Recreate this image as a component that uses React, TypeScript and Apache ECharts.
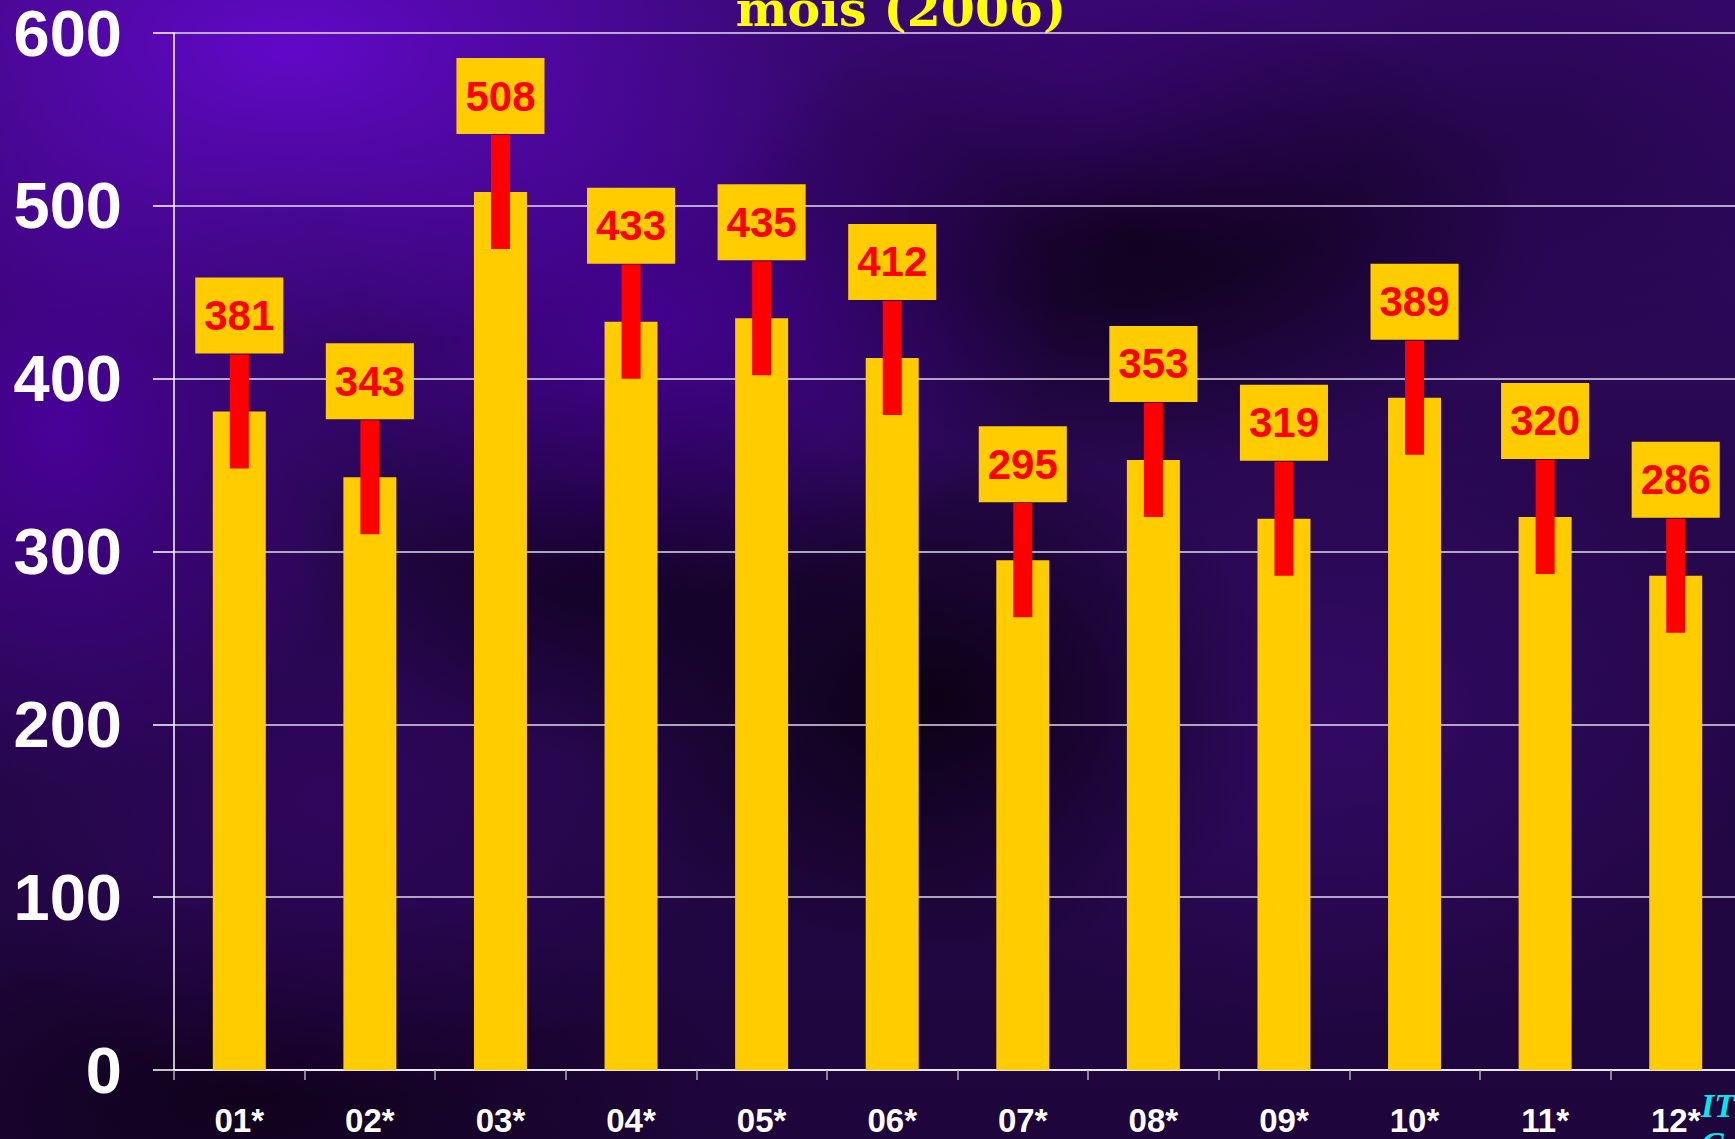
import React, { useEffect, useRef } from "react";
import * as echarts from "echarts";

const categories = ["01*", "02*", "03*", "04*", "05*", "06*", "07*", "08*", "09*", "10*", "11*", "12*"];
const values = [381, 343, 508, 433, 435, 412, 295, 353, 319, 389, 320, 286];
const errors = [33, 33, 33, 33, 33, 33, 33, 33, 33, 33, 33, 33];
const yTicks = [0, 100, 200, 300, 400, 500, 600];
const titleText = "mois (2006)";
const footText = "IT\nC";

const W = 1735;
const H = 1139;
const CW = 1760; // chart canvas slightly wider than the page so the plot can run past the right edge
const SANS = '"Liberation Sans", Arial, sans-serif';

export default function App() {
  const ref = useRef<HTMLDivElement>(null);
  useEffect(() => {
    if (!ref.current) return;
    const chart = echarts.init(ref.current, undefined, { renderer: "svg", width: CW, height: H });
    const option: any = {
      animation: false,
      backgroundColor: "transparent",
      grid: { left: 174, top: 33, width: 1567, height: 1037, containLabel: false },
      xAxis: {
        type: "category",
        data: categories,
        axisLine: { show: true, lineStyle: { color: "#ffffff", width: 1.5 } },
        axisTick: { show: true, length: 10, lineStyle: { color: "#b0b0b0", width: 1.5 } },
        axisLabel: { color: "#ffffff", fontFamily: SANS, fontWeight: "bold", fontSize: 33, margin: 34 },
        splitLine: { show: false },
      },
      yAxis: {
        type: "value",
        min: yTicks[0],
        max: yTicks[yTicks.length - 1],
        interval: 100,
        axisLine: { show: true, lineStyle: { color: "#ffffff", width: 1.5 } },
        axisTick: { show: true, length: 21, lineStyle: { color: "#ffffff", width: 1.5 } },
        axisLabel: { color: "#ffffff", fontFamily: SANS, fontWeight: "bold", fontSize: 65, margin: 52 },
        splitLine: { show: true, lineStyle: { color: "rgba(235,230,245,0.95)", width: 1.5 } },
      },
      series: [
        {
          type: "bar",
          data: values,
          barWidth: 53,
          itemStyle: { color: "#ffcc00" },
          z: 2,
        },
        {
          type: "custom",
          data: values.map((v, i) => [i, v, errors[i]]),
          z: 5,
          renderItem: (params: any, api: any) => {
            const idx = api.value(0);
            const v = api.value(1);
            const e = api.value(2);
            const top = api.coord([idx, v + e]);
            const bot = api.coord([idx, v - e]);
            const mid = api.coord([idx, v]);
            return {
              type: "group",
              children: [
                {
                  type: "rect",
                  shape: { x: top[0] - 9.5, y: top[1], width: 19, height: bot[1] - top[1] },
                  style: { fill: "#ff0000" },
                },
                {
                  type: "text",
                  x: mid[0],
                  y: mid[1] - 58,
                  z2: 10,
                  style: {
                    text: String(v),
                    fill: "#ff0000",
                    font: `bold 42px ${SANS}`,
                    align: "center",
                    verticalAlign: "bottom",
                    backgroundColor: "#ffcc00",
                    padding: [17, 9, 17, 9],
                    lineHeight: 42,
                  },
                },
              ],
            };
          },
        },
      ],
      graphic: [
        {
          type: "text",
          x: 901,
          y: 9,
          style: {
            text: titleText,
            fill: "#ffff00",
            font: 'bold 49px "DejaVu Serif", "Liberation Serif", serif',
            textAlign: "center",
            textVerticalAlign: "middle",
          },
        },
        {
          type: "text",
          x: 1701,
          y: 1086,
          style: {
            text: footText,
            fill: "#00e8ee",
            font: 'italic bold 34px "Liberation Serif", "DejaVu Serif", serif',
            textAlign: "left",
            textVerticalAlign: "top",
            lineHeight: 38,
          },
        },
      ],
    };
    chart.setOption(option);
    return () => chart.dispose();
  }, []);

  const bg = [
    "radial-gradient(ellipse 560px 300px at 290px 50px, rgba(100,8,205,0.95), rgba(100,8,205,0) 100%)",
    "radial-gradient(ellipse 320px 360px at 60px 430px, rgba(78,0,165,0.85), rgba(78,0,165,0) 100%)",
    "radial-gradient(ellipse 420px 280px at 640px 320px, rgba(72,0,155,0.8), rgba(72,0,155,0) 100%)",
    "radial-gradient(ellipse 320px 240px at 1080px 60px, rgba(60,5,120,0.7), rgba(60,5,120,0) 100%)",
    "radial-gradient(ellipse 420px 240px at 1130px 230px, rgba(8,0,12,0.95), rgba(8,0,12,0) 100%)",
    "radial-gradient(ellipse 300px 200px at 600px 560px, rgba(12,0,24,0.8), rgba(12,0,24,0) 100%)",
    "radial-gradient(ellipse 360px 260px at 930px 700px, rgba(10,0,16,0.9), rgba(10,0,16,0) 100%)",
    "radial-gradient(ellipse 440px 320px at 1330px 720px, rgba(55,10,110,0.75), rgba(55,10,110,0) 100%)",
    "radial-gradient(ellipse 380px 300px at 330px 800px, rgba(50,5,100,0.75), rgba(50,5,100,0) 100%)",
    "radial-gradient(ellipse 400px 260px at 1520px 150px, rgba(35,5,70,0.7), rgba(35,5,70,0) 100%)",
    "radial-gradient(ellipse 500px 220px at 250px 1100px, rgba(14,0,22,0.85), rgba(14,0,22,0) 100%)",
    "linear-gradient(180deg, #36086e 0%, #26084c 45%, #1e063c 100%)",
  ].join(", ");

  return (
    <div
      style={{ position: "fixed", left: 0, top: 0, width: W, height: H, overflow: "hidden", background: bg }}
    >
      <div ref={ref} style={{ width: CW, height: H }} />
    </div>
  );
}
